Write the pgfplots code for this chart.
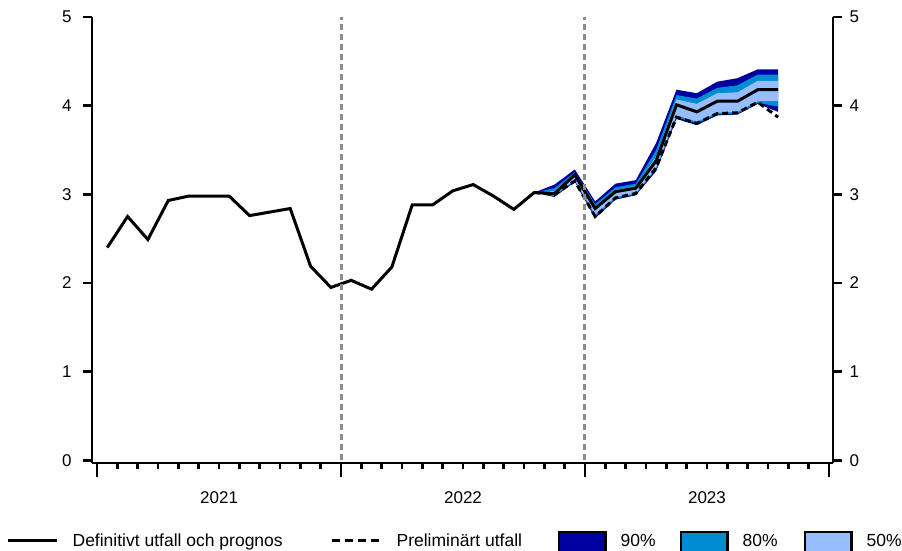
\documentclass[border=0pt]{standalone}
\usepackage{fontspec}
\setmainfont{Liberation Sans}
\usepackage{pgfplots}
\usepackage{pgfplotstable}
\pgfplotsset{compat=1.18}
\usepgfplotslibrary{fillbetween}
\definecolor{c90}{RGB}{0,0,160}
\definecolor{c80}{RGB}{0,140,210}
\definecolor{c50}{RGB}{150,190,255}
\definecolor{vgray}{RGB}{140,140,140}

\pgfplotstableread{
x y
0.5 2.40
1.5 2.75
2.5 2.49
3.5 2.93
4.5 2.98
5.5 2.98
6.5 2.98
7.5 2.76
8.5 2.80
9.5 2.84
10.5 2.19
11.5 1.95
12.5 2.03
13.5 1.93
14.5 2.18
15.5 2.88
16.5 2.88
17.5 3.04
18.5 3.11
19.5 2.98
20.5 2.83
21.5 3.02
22.5 3.01
23.5 3.22
24.5 2.84
25.5 3.03
26.5 3.07
27.5 3.38
28.5 4.01
29.5 3.93
30.5 4.05
31.5 4.05
32.5 4.18
33.5 4.18
}\solid

\pgfplotstableread{
x h90 h80 h50 l50 l80 l90 d
21.5 3.02 3.02 3.02 3.02 3.02 3.02 3.02
22.5 3.11 3.07 3.04 2.99 2.98 2.97 3.00
23.5 3.28 3.25 3.23 3.16 3.15 3.14 3.15
24.5 2.92 2.89 2.86 2.77 2.75 2.73 2.75
25.5 3.12 3.08 3.05 2.97 2.95 2.94 2.96
26.5 3.16 3.12 3.09 3.01 3.00 2.99 3.01
27.5 3.58 3.50 3.43 3.30 3.28 3.26 3.30
28.5 4.18 4.12 4.07 3.89 3.87 3.85 3.87
29.5 4.14 4.08 4.02 3.82 3.80 3.78 3.80
30.5 4.27 4.20 4.14 3.92 3.90 3.89 3.91
31.5 4.31 4.23 4.15 3.93 3.91 3.90 3.92
32.5 4.41 4.35 4.28 4.05 4.03 4.02 4.04
33.5 4.41 4.35 4.28 4.05 3.99 3.93 3.87
}\fan

\pgfplotsset{
  common/.style={
    at={(92pt,88pt)}, anchor=south west,
    width=741pt, height=446pt, scale only axis,
    xmin=-0.25, xmax=36.2, ymin=-0.03, ymax=5,
    tick align=outside,
    axis line style={line width=2.8pt, black},
    every tick/.style={line width=2.6pt, black},
    /pgf/number format/assume math mode=true,
    tick label style={font=\fontsize{17}{20}\selectfont},
  },
  lineleg/.style={legend image code/.code={\path[draw=none,fill=none] (0pt,-9pt) rectangle (49pt,9pt); \draw[##1] (0pt,0pt) -- (49pt,0pt);}},
  boxleg/.style={legend image code/.code={\path[draw=none,fill=none] (0pt,-9pt) rectangle (49pt,9pt);
     \pgfinterruptboundingbox\draw[##1,draw=black,line width=2.6pt] (1.3pt,-12pt) rectangle (47.7pt,8.7pt);\endpgfinterruptboundingbox}},
}

\begin{document}
\begin{tikzpicture}[x=1pt,y=1pt]
\begin{axis}[common,
  axis x line*=bottom, axis y line*=left,
  ytick=\empty,
  xtick={0,12,24,36}, xticklabels={},
  major tick length=14pt,
  minor xtick={0,...,36},
  minor tick length=6pt,
  extra x ticks={6,18,30}, extra x tick labels={2021,2022,2023},
  extra x tick style={major tick length=0pt, xticklabel style={yshift=-25pt}},
  legend columns=-1,
  legend style={at={(axis description cs:-0.1152,-0.1742)}, anchor=west,
    draw=none, fill=none, inner sep=0pt, outer sep=0pt,
    font=\fontsize{17.5}{21}\selectfont,
    nodes={inner sep=0pt, outer sep=0pt},
    /tikz/every odd column/.append style={column sep=14pt},
    /tikz/every even column/.append style={column sep=0pt}},
]
\addplot[draw=none, name path=h90, forget plot] table[x=x,y=h90]{\fan};
\addplot[draw=none, name path=h80, forget plot] table[x=x,y=h80]{\fan};
\addplot[draw=none, name path=h50, forget plot] table[x=x,y=h50]{\fan};
\addplot[draw=none, name path=l50, forget plot] table[x=x,y=l50]{\fan};
\addplot[draw=none, name path=l80, forget plot] table[x=x,y=l80]{\fan};
\addplot[draw=none, name path=l90, forget plot] table[x=x,y=l90]{\fan};
\addplot[c90, forget plot] fill between[of=h90 and l90];
\addplot[c80, forget plot] fill between[of=h80 and l80];
\addplot[c50, forget plot] fill between[of=h50 and l50];
\addplot[black, line width=3pt, forget plot] table[x=x,y=y]{\solid};
\addplot[black, line width=3pt, dash pattern=on 6pt off 4pt, forget plot] table[x=x,y=d]{\fan};
\addplot[vgray, line width=3pt, dash pattern=on 6pt off 4pt, forget plot] coordinates {(12,0) (12,5)};
\addplot[vgray, line width=3pt, dash pattern=on 6pt off 4pt, forget plot] coordinates {(24,0) (24,5)};

\addlegendimage{lineleg, black, line width=3pt}
\addlegendentry{\makebox[258pt][l]{Definitivt utfall och prognos}}
\addlegendimage{lineleg, black, line width=3pt, dash pattern=on 8pt off 5pt}
\addlegendentry{\makebox[161pt][l]{Preliminärt utfall}}
\addlegendimage{boxleg, fill=c90}
\addlegendentry{\makebox[59pt][l]{90\%}}
\addlegendimage{boxleg, fill=c80}
\addlegendentry{\makebox[61pt][l]{80\%}}
\addlegendimage{boxleg, fill=c50}
\addlegendentry{\makebox[30pt][l]{50\%}}
\end{axis}
\begin{axis}[common,
  axis x line=none, axis y line*=left,
  ytick={0,1,2,3,4,5}, major tick length=9pt,
  yticklabel style={xshift=-8pt},
]
\addplot[draw=none, forget plot] coordinates {(0,0) (36,5)};
\end{axis}
\begin{axis}[common,
  axis x line=none, axis y line*=right,
  ytick={0,1,2,3,4,5}, major tick length=9pt,
  yticklabel style={xshift=4pt},
]
\addplot[draw=none, forget plot] coordinates {(0,0) (36,5)};
\end{axis}
\path (0,0) rectangle (902,551);
\end{tikzpicture}
\end{document}
